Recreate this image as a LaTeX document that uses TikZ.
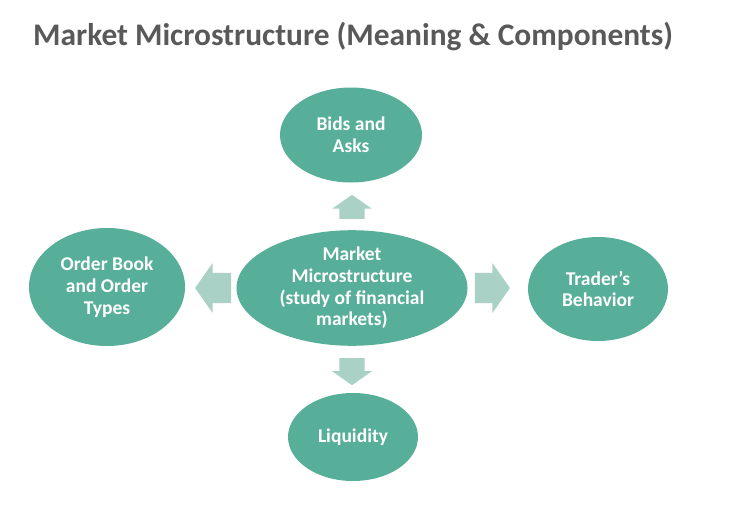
\documentclass[tikz,border=0pt]{standalone}
\usepackage{fontspec}
\setmainfont{Carlito}
\usetikzlibrary{shapes.geometric,shapes.arrows,calc}
\definecolor{sea}{HTML}{57AE99}
\definecolor{mist}{HTML}{A9D1C5}
\definecolor{slate}{HTML}{595959}
\tikzset{
  bubble/.style={ellipse, fill=sea, text=white, align=center, inner sep=0pt,
    font=\fontsize{19.5}{21.7}\selectfont\bfseries},
  fat/.style={single arrow, fill=mist, draw=none, inner xsep=0pt, anchor=tail,
    single arrow head indent=0pt, single arrow tip angle=110}
}
\begin{document}
\begin{tikzpicture}[x=1pt,y=-1pt]
\useasboundingbox (0,0) rectangle (732,528);
\node[anchor=base west, inner sep=0pt, text=slate, font=\fontsize{31.4}{37}\selectfont\bfseries] (title) at (33,45) {Market Microstructure (Meaning \& Components)}; %%Title
\node[bubble, minimum width=231, minimum height=110] (core) at (352,288) {Market\\Microstructure\\(study of financial\\markets)}; %%Middle
\node[bubble, minimum width=142, minimum height=95] (bids) at (351,135) {Bids and\\Asks}; %%Top
\node[bubble, minimum width=156, minimum height=118] (book) at (107,287) {Order Book\\and Order\\Types}; %%Left
\node[bubble, minimum width=140, minimum height=104] (trader) at (598,289) {Trader’s\\Behavior}; %%Right
\node[bubble, minimum width=130, minimum height=88] (liq) at (353,437) {Liquidity}; %%Bottom
\node[fat, rotate=90, inner ysep=12.5pt, single arrow head extend=7pt, minimum height=24pt] (up) at ($(core.north)+(0,-11)$) {}; %%Up
\node[fat, rotate=-90, inner ysep=12.5pt, single arrow head extend=7.5pt, minimum height=27pt] (down) at ($(core.south)+(0,12)$) {}; %%Down
\node[fat, rotate=180, inner ysep=15pt, single arrow head extend=10pt, minimum height=36pt] (left) at ($(core.west)+(-5,0)$) {}; %%Left
\node[fat, inner ysep=15pt, single arrow head extend=10pt, minimum height=35pt] (right) at ($(core.east)+(7,0)$) {}; %%Right
\end{tikzpicture}
\end{document}
